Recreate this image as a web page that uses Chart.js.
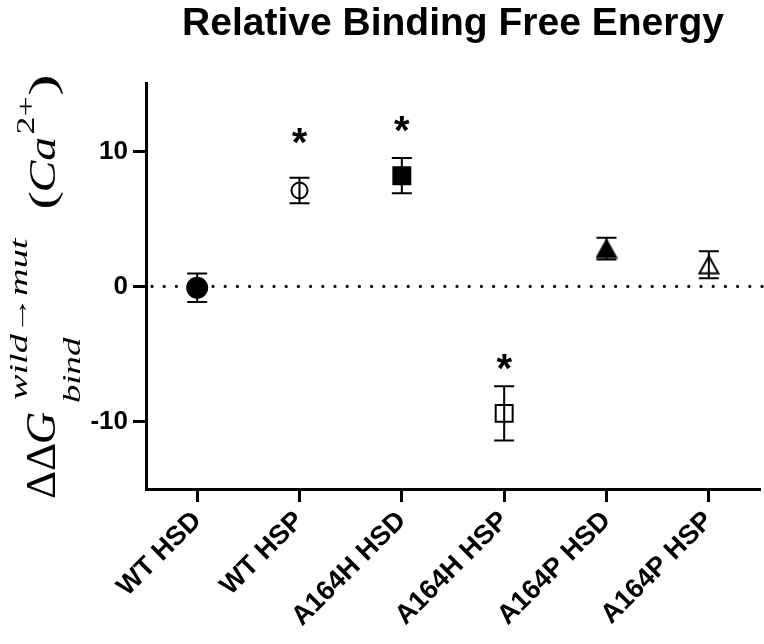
<!DOCTYPE html>
<html><head><meta charset="utf-8">
<script src="https://cdn.jsdelivr.net/npm/chart.js@4/dist/chart.umd.min.js"></script>
<style>html,body{margin:0;padding:0;background:#fff;}</style>
</head><body>
<canvas id="c" width="764" height="644" style="width:764px;height:644px;display:block"></canvas>
<script>
const categories = ['WT HSD', 'WT HSP', 'A164H HSD', 'A164H HSP', 'A164P HSD', 'A164P HSP'];
const meanValues = [-0.1, 7.1, 8.2, -9.4, 2.8, 1.6];
const errorValues = [1.05, 0.95, 1.3, 2.0, 0.8, 1.0];
const asteriskValues = [null, 11.1, 12.0, -5.6, null, null];
const yTickValues = [-10, 0, 10];
const yMin = -15, yMax = 15;
const referenceLineValue = 0;

function makeTriangle(filled) {
  const c = document.createElement('canvas');
  c.width = 22; c.height = 20;
  const g = c.getContext('2d');
  g.beginPath();
  g.moveTo(11, 1.5); g.lineTo(20.5, 18.5); g.lineTo(1.5, 18.5); g.closePath();
  g.lineWidth = 2; g.strokeStyle = '#000'; g.lineJoin = 'miter';
  if (filled) { g.fillStyle = '#000'; g.fill(); }
  g.stroke();
  return c;
}
const markerStyles = ['circle', 'circle', 'rect', 'rect', makeTriangle(true), makeTriangle(false)];
const markerRadius = [10, 8, 12, 12, 10, 10];
const markerFill = ['#000', 'rgba(0,0,0,0)', '#000', 'rgba(0,0,0,0)', '#000', 'rgba(0,0,0,0)'];

const zeroLinePlugin = {
  id: 'zeroLine',
  beforeDatasetsDraw(chart) {
    const {ctx, chartArea, scales} = chart;
    const y = scales.y.getPixelForValue(referenceLineValue);
    ctx.save();
    ctx.strokeStyle = '#000';
    ctx.lineWidth = 3.2;
    ctx.lineCap = 'round';
    ctx.setLineDash([0, 12.2]);
    ctx.beginPath();
    ctx.moveTo(chartArea.left + 6, y);
    ctx.lineTo(chartArea.right + 4, y);
    ctx.stroke();
    ctx.restore();
  }
};

const errorBarPlugin = {
  id: 'errorBars',
  beforeDatasetsDraw(chart) {
    const {ctx, scales} = chart;
    ctx.save();
    ctx.strokeStyle = '#000';
    ctx.lineWidth = 2;
    meanValues.forEach((m, i) => {
      const x = scales.x.getPixelForValue(i);
      const yt = scales.y.getPixelForValue(m + errorValues[i]);
      const yb = scales.y.getPixelForValue(m - errorValues[i]);
      ctx.beginPath();
      ctx.moveTo(x, yt); ctx.lineTo(x, yb);
      ctx.moveTo(x - 10, yt); ctx.lineTo(x + 10, yt);
      ctx.moveTo(x - 10, yb); ctx.lineTo(x + 10, yb);
      ctx.stroke();
    });
    ctx.restore();
  }
};

const asteriskPlugin = {
  id: 'asterisks',
  afterDatasetsDraw(chart) {
    const {ctx, scales} = chart;
    ctx.save();
    ctx.fillStyle = '#000';
    ctx.font = 'bold 40px "Liberation Sans", Arial, sans-serif';
    ctx.textAlign = 'center';
    ctx.textBaseline = 'alphabetic';
    const mt = ctx.measureText('*');
    const mid = (mt.actualBoundingBoxAscent - mt.actualBoundingBoxDescent) / 2;
    asteriskValues.forEach((v, i) => {
      if (v === null) return;
      const x = scales.x.getPixelForValue(i);
      const y = scales.y.getPixelForValue(v);
      ctx.fillText('*', x, y + mid);
    });
    ctx.restore();
  }
};

const yLabelPieces = [
  {text: 'ΔΔ', font: 'normal 42px "Liberation Serif", serif', x: 55, y0: 498, y1: 444},
  {text: 'G', font: 'italic 42px "Liberation Serif", serif', x: 55, y0: 442, y1: 412},
  {text: 'wild→mut', font: 'italic 25px "Liberation Serif", serif', x: 27, y0: 400, y1: 237},
  {text: 'bind', font: 'italic 25px "Liberation Serif", serif', x: 80, y0: 403, y1: 337},
  {text: '(', font: 'normal 38px "Liberation Serif", serif', x: 55, y0: 208, y1: 192},
  {text: 'Ca', font: 'italic 38px "Liberation Serif", serif', x: 55, y0: 190, y1: 138},
  {text: '2+', font: 'normal 26px "Liberation Serif", serif', x: 34, y0: 133, y1: 97},
  {text: ')', font: 'normal 38px "Liberation Serif", serif', x: 55, y0: 94, y1: 77}
];
const yLabelPlugin = {
  id: 'yLabel',
  afterDraw(chart) {
    const ctx = chart.ctx;
    ctx.save();
    ctx.fillStyle = '#000';
    ctx.textAlign = 'left';
    ctx.textBaseline = 'alphabetic';
    yLabelPieces.forEach(p => {
      ctx.font = p.font;
      const m = ctx.measureText(p.text);
      const w = m.actualBoundingBoxRight + m.actualBoundingBoxLeft;
      ctx.save();
      ctx.translate(p.x, p.y0);
      ctx.rotate(-Math.PI / 2);
      ctx.scale((p.y0 - p.y1) / w, 1);
      ctx.fillText(p.text, m.actualBoundingBoxLeft, 0);
      ctx.restore();
    });
    ctx.restore();
  }
};

new Chart(document.getElementById('c'), {
  type: 'line',
  data: {
    labels: categories,
    datasets: [{
      data: meanValues,
      showLine: false,
      pointStyle: markerStyles,
      pointRadius: markerRadius,
      pointHoverRadius: markerRadius,
      pointBackgroundColor: markerFill,
      pointBorderColor: '#000',
      pointBorderWidth: 2
    }]
  },
  options: {
    responsive: false,
    animation: false,
    devicePixelRatio: 1,
    layout: {autoPadding: false, padding: {top: 0, left: 0, right: 4, bottom: 0}},
    plugins: {
      legend: {display: false},
      tooltip: {enabled: false},
      title: {
        display: true,
        text: 'Relative Binding Free Energy',
        fullSize: false,
        color: '#000',
        font: {family: '"Liberation Sans", Arial, sans-serif', size: 39, weight: 'bold'},
        padding: {top: 1, bottom: 36}
      }
    },
    scales: {
      x: {
        type: 'category',
        offset: true,
        grid: {display: true, drawOnChartArea: false, offset: false, tickLength: 13, tickWidth: 3, tickColor: '#000'},
        border: {display: true, color: '#000', width: 3},
        ticks: {
          color: '#000', maxRotation: 45, minRotation: 45, padding: 3,
          font: {family: '"Liberation Sans", Arial, sans-serif', size: 27, weight: 'bold'}
        },
        afterFit(scale) { scale.height = 155; scale.paddingRight = 0; scale.paddingLeft = 0; }
      },
      y: {
        min: yMin, max: yMax,
        grid: {display: true, drawOnChartArea: false, tickLength: 13, tickWidth: 3, tickColor: '#000'},
        border: {display: true, color: '#000', width: 3},
        ticks: {
          color: '#000', padding: 5,
          font: {family: '"Liberation Sans", Arial, sans-serif', size: 26, weight: 'bold'}
        },
        afterBuildTicks(scale) { scale.ticks = yTickValues.map(v => ({value: v})); },
        afterFit(scale) { scale.width = 146; }
      }
    }
  },
  plugins: [zeroLinePlugin, errorBarPlugin, asteriskPlugin, yLabelPlugin]
});
</script>
</body></html>
